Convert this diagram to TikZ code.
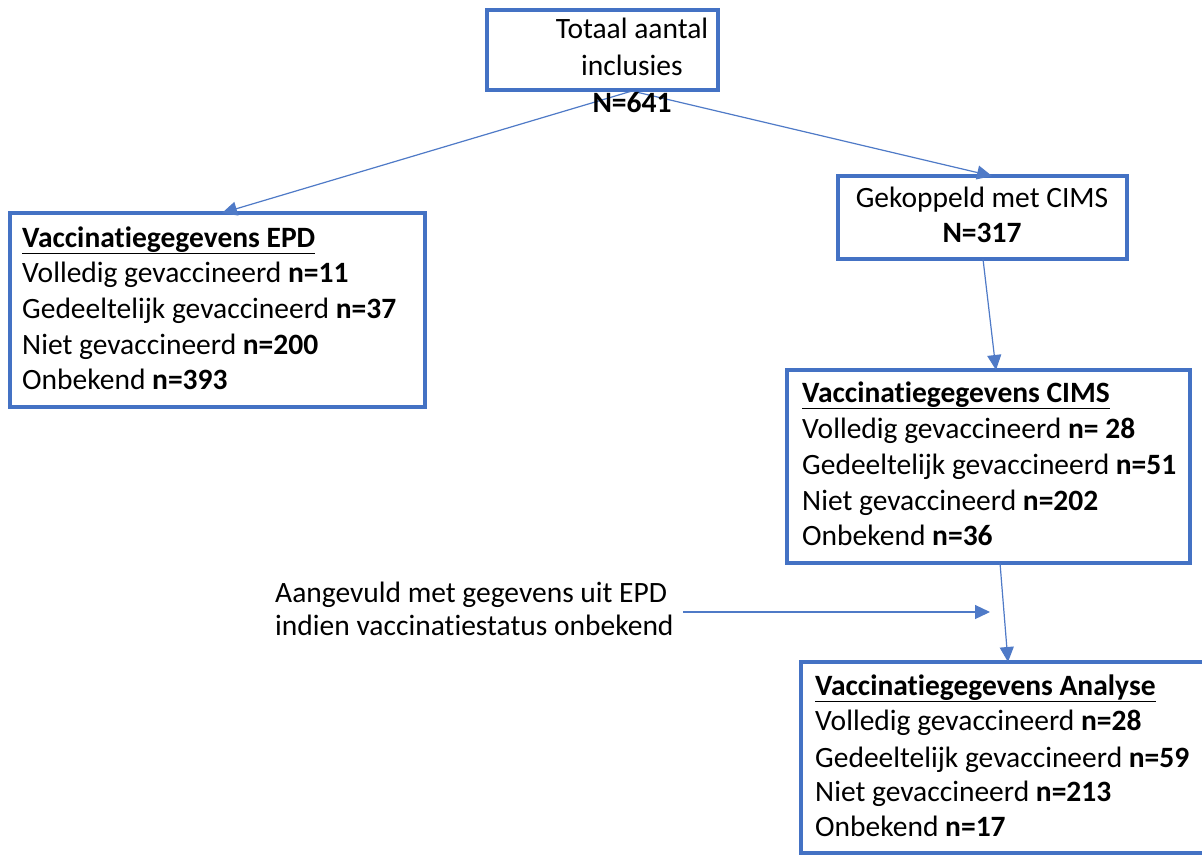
\documentclass[tikz,border=0pt]{standalone}
\usepackage{fontspec}
\setmainfont{Carlito}[RawFeature={-liga}]
\usetikzlibrary{arrows.meta}
\definecolor{boxblue}{HTML}{4472C4}
\definecolor{arrblue}{HTML}{4F7AC7}
\begin{document}
\begin{tikzpicture}[x=1pt,y=-1pt,
  box/.style={draw=boxblue,line width=3.2pt,rectangle,anchor=north west,inner sep=0pt,outer sep=0pt},
  txt/.style={anchor=base west,inner sep=0pt,font=\fontsize{29.5}{36}\selectfont},
  ctxt/.style={anchor=base,inner sep=0pt,font=\fontsize{29.5}{36}\selectfont},
  conn/.style={draw=arrblue,line width=1.2pt,-{Triangle[length=15pt,width=14pt]}}]
\useasboundingbox[fill=white] (0,0) rectangle (1202,855);

% boxes
\node[box,minimum width=231pt,minimum height=80pt] (top) at (487,10) {};
\node[box,minimum width=415pt,minimum height=194pt] (epd) at (10,213) {};
\node[box,minimum width=289pt,minimum height=83pt] (cims) at (838,176) {};
\node[box,minimum width=403pt,minimum height=193pt] (vcims) at (787,370) {};
\node[box,minimum width=420pt,minimum height=191pt] (ana) at (801,662) {};

% connector end points
\coordinate (topout) at (632,91);
\coordinate (epdin) at (222,213);
\coordinate (cimsin) at (992,176);
\coordinate (cimsout) at (983,259);
\coordinate (vcimsin) at (996,370);
\coordinate (vcimsout) at (1000,563);
\coordinate (anain) at (1008,662);
\coordinate (noteout) at (683,612);
\coordinate (notein) at (990,612);

\draw[conn] (topout) -- (epdin);
\draw[conn] (topout) -- (cimsin);
\draw[conn] (cimsout) -- (vcimsin);
\draw[conn] (vcimsout) -- (anain);
\draw[conn] (noteout) -- (notein);

% top box text
\node[ctxt] (t1) at (632,38) {Totaal aantal};
\node[ctxt] (t2) at (632,75) {inclusies};
\node[ctxt] (t3) at (632,112) {\bfseries N=641};

% EPD
\node[txt] (e0) at (22,247) {\bfseries\underline{Vaccinatiegegevens EPD}};
\node[txt] (e1) at (22,282) {Volledig gevaccineerd \textbf{n=11}};
\node[txt] (e2) at (22,318) {Gedeeltelijk gevaccineerd \textbf{n=37}};
\node[txt] (e3) at (22,354) {Niet gevaccineerd \textbf{n=200}};
\node[txt] (e4) at (22,389) {Onbekend \textbf{n=393}};

% CIMS
\node[ctxt] (c1) at (982,207) {Gekoppeld met CIMS};
\node[ctxt] (c2) at (982,242) {\bfseries N=317};

% Vacc CIMS
\node[txt] (v0) at (802,402) {\bfseries\underline{Vaccinatiegegevens CIMS}};
\node[txt] (v1) at (802,438) {Volledig gevaccineerd \textbf{n= 28}};
\node[txt] (v2) at (802,474) {Gedeeltelijk gevaccineerd \textbf{n=51}};
\node[txt] (v3) at (802,510) {Niet gevaccineerd \textbf{n=202}};
\node[txt] (v4) at (802,545) {Onbekend \textbf{n=36}};

% Analyse
\node[txt] (a0) at (815,695) {\bfseries\underline{Vaccinatiegegevens Analyse}};
\node[txt] (a1) at (815,730) {Volledig gevaccineerd \textbf{n=28}};
\node[txt] (a2) at (815,767) {Gedeeltelijk gevaccineerd \textbf{n=59}};
\node[txt] (a3) at (815,801) {Niet gevaccineerd \textbf{n=213}};
\node[txt] (a4) at (815,836) {Onbekend \textbf{n=17}};

% note
\node[txt] (n1) at (275,602) {Aangevuld met gegevens uit EPD};
\node[txt] (n2) at (275,635) {indien vaccinatiestatus onbekend};
\end{tikzpicture}
\end{document}
